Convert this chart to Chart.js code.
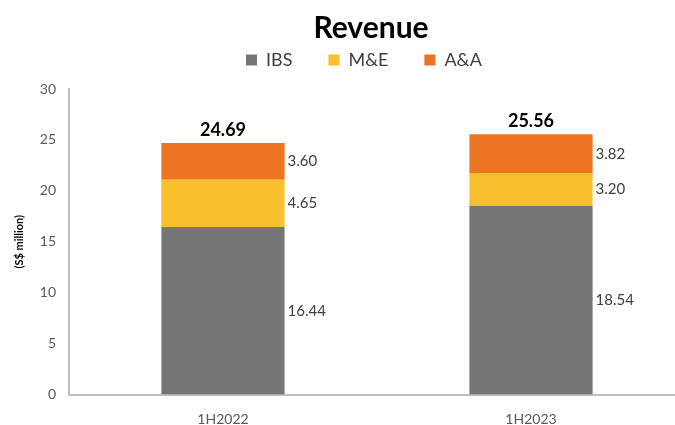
<!DOCTYPE html>
<html><head><meta charset="utf-8">
<script src="https://cdn.jsdelivr.net/npm/chart.js@4/dist/chart.umd.min.js"></script>
<style>html,body{margin:0;padding:0;background:#fff;overflow:hidden}#wrap{width:675px;height:425px;overflow:hidden}</style>
</head><body><div id="wrap"><canvas id="c" width="685" height="425"></canvas></div>
<script>
const categories = ["1H2022", "1H2023"];
const ibs = [16.44, 18.54];
const me = [4.65, 3.20];
const aa = [3.60, 3.82];
const totals = [24.69, 25.56];
const yTicks = [0, 5, 10, 15, 20, 25, 30];

const FONT = "Lato, 'Open Sans', sans-serif";
const TITLE_CENTER = 371;
const LEGEND_CENTER = 364;

const labelPlugin = {
  id: 'labels',
  afterDatasetsDraw(chart) {
    const ctx = chart.ctx;
    ctx.save();
    ctx.textBaseline = 'middle';
    chart.data.datasets.forEach((ds, di) => {
      const meta = chart.getDatasetMeta(di);
      meta.data.forEach((bar, i) => {
        const p = bar.getProps(['x', 'y', 'base', 'width'], true);
        ctx.fillStyle = '#404040';
        ctx.font = '15px ' + FONT;
        ctx.textAlign = 'left';
        ctx.fillText(ds.data[i].toFixed(2), p.x + p.width / 2 + 3, (p.y + p.base) / 2);
      });
    });
    const top = chart.getDatasetMeta(chart.data.datasets.length - 1);
    top.data.forEach((bar, i) => {
      const p = bar.getProps(['x', 'y'], true);
      ctx.fillStyle = '#000';
      ctx.font = 'bold 18px ' + FONT;
      ctx.textAlign = 'center';
      ctx.textBaseline = 'bottom';
      ctx.fillText(totals[i].toFixed(2), p.x, p.y - 4);
    });
    ctx.restore();
  }
};

const headerPlugin = {
  id: 'header',
  beforeInit(chart) {
    const orig = chart.legend.fit;
    chart.legend.fit = function () { orig.call(this); this.height += 10; };
  },
  afterLayout(chart) {
    [[chart.titleBlock, TITLE_CENTER], [chart.legend, LEGEND_CENTER]].forEach(([b, c]) => {
      if (!b) return;
      const dx = c - (b.left + b.right) / 2;
      b.left += dx; b.right += dx;
    });
  }
};

new Chart(document.getElementById('c'), {
  type: 'bar',
  data: {
    labels: categories,
    datasets: [
      { label: 'IBS', data: ibs, backgroundColor: '#767676' },
      { label: 'M&E', data: me, backgroundColor: '#f8bf2e' },
      { label: 'A&A', data: aa, backgroundColor: '#ed7422' }
    ]
  },
  options: {
    responsive: false,
    animation: false,
    datasets: { bar: { barPercentage: 0.4, categoryPercentage: 1.0 } },
    layout: { padding: { left: 0, right: 0, top: 10, bottom: 0 } },
    plugins: {
      title: {
        display: true, text: 'Revenue', fullSize: false,
        font: { family: FONT, size: 30, weight: 'bold' }, color: '#000',
        padding: { top: 0, bottom: -31 }
      },
      legend: {
        fullSize: false,
        labels: {
          boxWidth: 11, boxHeight: 11, padding: 36,
          font: { family: FONT, size: 18 }, color: '#404040'
        }
      },
      tooltip: { enabled: false }
    },
    scales: {
      x: {
        stacked: true,
        grid: { display: false, tickLength: 0 },
        border: { color: '#bfbfbf', width: 2 },
        ticks: { font: { family: FONT, size: 14 }, color: '#595959', padding: 17 },
        afterFit(scale) { scale.height = 30.5; }
      },
      y: {
        stacked: true, min: 0, max: 30,
        afterBuildTicks(scale) { scale.ticks = yTicks.map(v => ({ value: v })); },
        grid: { display: false, tickLength: 0 },
        border: { color: '#bfbfbf', width: 2 },
        ticks: { font: { family: FONT, size: 14 }, color: '#595959', padding: 13 },
        title: { display: true, text: '(S$ million)', font: { family: FONT, size: 11, weight: 'bold' }, color: '#000', padding: 13 },
        afterFit(scale) { scale.width = 69; }
      }
    }
  },
  plugins: [labelPlugin, headerPlugin]
});
</script></body></html>
